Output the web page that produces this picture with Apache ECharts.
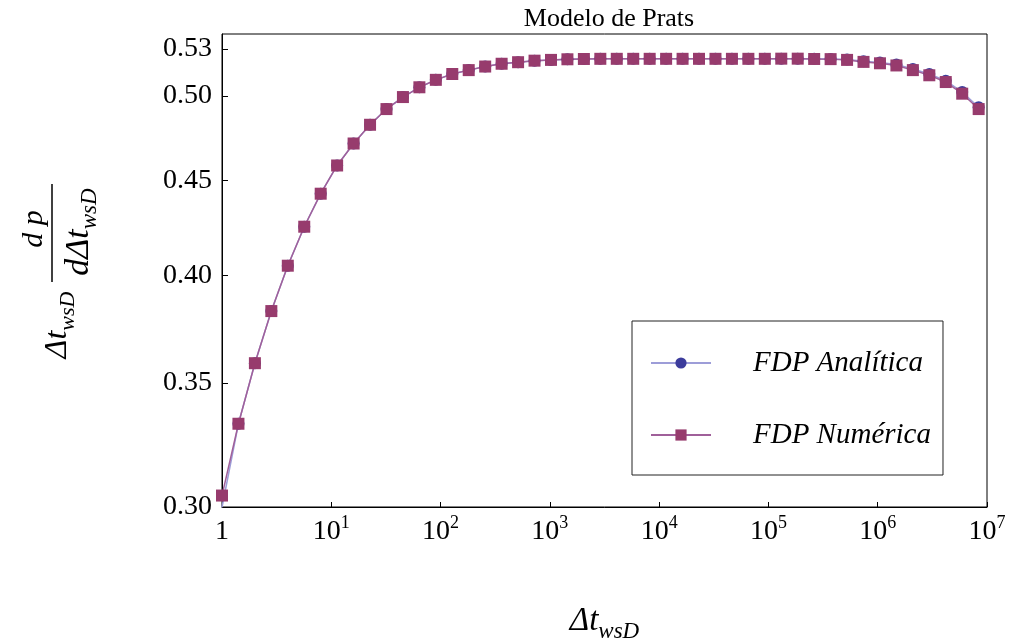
<!DOCTYPE html>
<html>
<head>
<meta charset="utf-8">
<script src="https://cdn.jsdelivr.net/npm/echarts@6/dist/echarts.min.js"></script>
<style>
  html, body { margin: 0; padding: 0; background: #fff; }
  #main { width: 1011px; height: 641px; }
</style>
</head>
<body>
<div id="main"></div>
<script>
// tiempo adimensional (eje x, escala log)
var tempo = [1, 1.414, 2, 2.828, 4, 5.657, 8, 11.31, 16, 22.63, 32, 45.25, 64, 90.51, 128, 181.0,
  256, 362.0, 512, 724.1, 1024, 1448, 2048, 2896, 4096, 5793, 8192, 11585, 16384, 23170,
  32768, 46341, 65536, 92682, 131072, 185364, 262144, 370728, 524288, 741455, 1048576,
  1482910, 2097152, 2965821, 4194304, 5931642, 8388608]

// derivada de presion
var analitica = [0.2999, 0.3327, 0.3587, 0.3827, 0.4049, 0.4250, 0.4428, 0.4586, 0.4713, 0.4824,
  0.4919, 0.4993, 0.5054, 0.5101, 0.5138, 0.5163, 0.5186, 0.5204, 0.5214, 0.5224,
  0.5229, 0.5233, 0.5235, 0.5236, 0.5236, 0.5236, 0.5236, 0.5236, 0.5236, 0.5236,
  0.5236, 0.5236, 0.5236, 0.5236, 0.5237, 0.5237, 0.5236, 0.5235, 0.5231, 0.5220,
  0.5212, 0.5199, 0.5170, 0.5138, 0.5096, 0.5024, 0.4930]
var numerica = [0.3043, 0.3327, 0.3587, 0.3827, 0.4049, 0.4250, 0.4428, 0.4586, 0.4713, 0.4824,
  0.4919, 0.4993, 0.5054, 0.5101, 0.5138, 0.5163, 0.5186, 0.5204, 0.5214, 0.5224,
  0.5229, 0.5233, 0.5235, 0.5236, 0.5236, 0.5236, 0.5236, 0.5236, 0.5236, 0.5236,
  0.5236, 0.5236, 0.5236, 0.5236, 0.5237, 0.5237, 0.5235, 0.5234, 0.5229, 0.5216,
  0.5207, 0.5193, 0.5163, 0.5130, 0.5087, 0.5014, 0.4919]

var yTicks = [0.30, 0.35, 0.40, 0.45, 0.50, 0.53]
var yMin = 0.30
var yMax = 0.54

var serif = 'Liberation Serif'

function toLog(arr) {
  return arr.map(function (v, i) { return [tempo[i], Math.log10(v)] })
}

var chart = echarts.init(document.getElementById('main'))

var option = {
  animation: false,
  backgroundColor: '#fff',
  title: {
    text: 'Modelo de Prats',
    left: 604,
    top: 1,
    textAlign: 'center',
    textStyle: { fontFamily: serif, fontSize: 26, fontWeight: 'normal', color: '#000' }
  },
  grid: {
    left: 222, right: 24, top: 34, bottom: 134,
    outerBoundsMode: 'none',
    containLabel: false,
    show: true, borderColor: '#000', borderWidth: 1
  },
  legend: {
    orient: 'vertical',
    left: 632,
    top: 321,
    itemWidth: 60,
    itemHeight: 14,
    itemGap: 42,
    padding: [27, 12, 25, 18],
    borderColor: '#222',
    borderWidth: 1,
    textStyle: {
      fontFamily: serif, fontStyle: 'italic', fontSize: 29, color: '#000',
      lineHeight: 30, padding: [0, 0, 0, 37]
    },
    data: ['FDP Analítica', 'FDP Numérica']
  },
  xAxis: {
    type: 'log',
    logBase: 10,
    min: 1,
    max: 1e7,
    splitNumber: 7,
    name: 'Δt{sub|wsD}',
    nameLocation: 'middle',
    nameGap: 92,
    nameTextStyle: {
      fontFamily: serif, fontStyle: 'italic', fontSize: 33, color: '#000', lineHeight: 44,
      rich: {
        sub: { fontFamily: serif, fontStyle: 'italic', fontSize: 23, color: '#000', lineHeight: 44, verticalAlign: 'bottom' }
      }
    },
    axisLine: { lineStyle: { color: '#000', width: 1 } },
    axisTick: { inside: true, length: 5, lineStyle: { color: '#000' } },
    minorTick: { show: false },
    splitLine: { show: false },
    axisLabel: {
      margin: 7,
      color: '#000',
      fontFamily: serif,
      fontSize: 28,
      lineHeight: 36,
      formatter: function (v) {
        var e = Math.round(Math.log10(v))
        return e === 0 ? '1' : '10{sup|' + e + '}'
      },
      rich: {
        sup: { fontFamily: serif, fontSize: 18, color: '#000', lineHeight: 36, verticalAlign: 'top' }
      }
    }
  },
  yAxis: {
    type: 'value',
    min: Math.log10(yMin),
    max: Math.log10(yMax),
    axisLine: { show: true, lineStyle: { color: '#000', width: 1 } },
    axisTick: { show: true, inside: true, length: 6, lineStyle: { color: '#000' }, customValues: yTicks.map(Math.log10) },
    splitLine: { show: false },
    axisLabel: {
      margin: 10,
      color: '#000',
      fontFamily: serif,
      fontSize: 28,
      customValues: yTicks.map(Math.log10),
      formatter: function (v) { return Math.pow(10, v).toFixed(2) }
    }
  },
  graphic: [
    {
      type: 'text', x: 58, y: 325, rotation: Math.PI / 2,
      style: {
        text: 'Δt{sub|wsD}', align: 'center', verticalAlign: 'middle',
        font: 'italic 32px ' + serif, fill: '#000', lineHeight: 42,
        rich: { sub: { font: 'italic 22px ' + serif, fill: '#000', lineHeight: 42, verticalAlign: 'bottom' } }
      }
    },
    {
      type: 'text', x: 34, y: 229, rotation: Math.PI / 2,
      style: { text: 'd p', align: 'center', verticalAlign: 'middle', font: 'italic 30px ' + serif, fill: '#000' }
    },
    {
      type: 'line',
      shape: { x1: 52, y1: 184, x2: 52, y2: 282 },
      style: { stroke: '#000', lineWidth: 1.5 }
    },
    {
      type: 'text', x: 79, y: 232, rotation: Math.PI / 2,
      style: {
        text: 'dΔt{sub|wsD}', align: 'center', verticalAlign: 'middle',
        font: 'italic 34px ' + serif, fill: '#000', lineHeight: 44,
        rich: { sub: { font: 'italic 23px ' + serif, fill: '#000', lineHeight: 44, verticalAlign: 'bottom' } }
      }
    }
  ],
  series: [
    {
      name: 'FDP Analítica',
      type: 'line',
      data: toLog(analitica),
      symbol: 'circle',
      symbolSize: 12,
      clip: true,
      itemStyle: { color: '#3c3c9c' },
      lineStyle: { color: '#9d9dd8', width: 1.5 }
    },
    {
      name: 'FDP Numérica',
      type: 'line',
      data: toLog(numerica),
      symbol: 'rect',
      symbolSize: 12,
      clip: true,
      itemStyle: { color: '#973b6d' },
      lineStyle: { color: '#a0609a', width: 1.5 }
    }
  ]
}

chart.setOption(option)
</script>
</body>
</html>
